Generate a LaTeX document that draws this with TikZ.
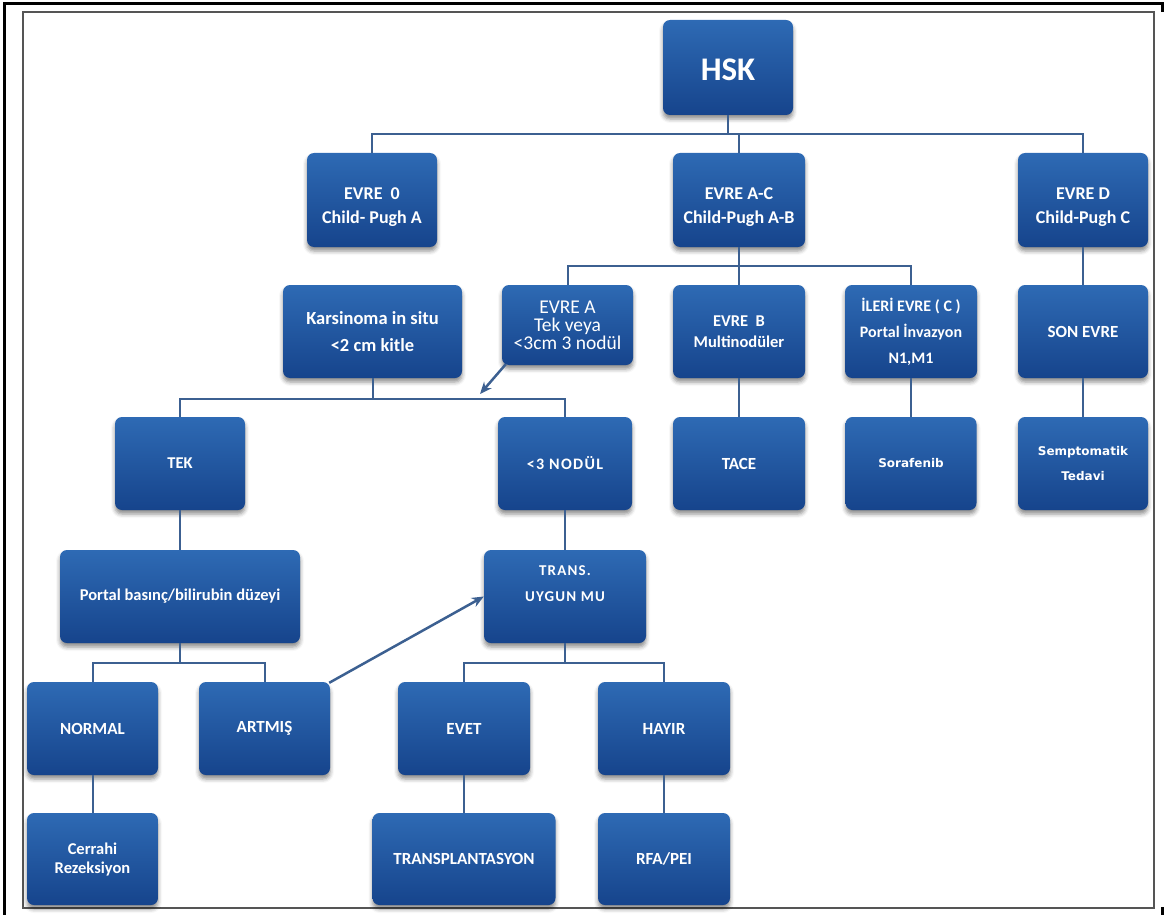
\documentclass[tikz,border=0pt]{standalone}
\usepackage{fontspec}
\setmainfont{Carlito}
\newfontfamily\dvsans{DejaVu Sans}
\newfontfamily\spcd[LetterSpace=8]{Carlito}
\usetikzlibrary{arrows.meta,shadows.blur}

\definecolor{boxtop}{RGB}{46,106,180}
\definecolor{boxbot}{RGB}{22,68,140}
\definecolor{linec}{RGB}{60,96,145}
\definecolor{framegray}{RGB}{85,85,85}

\tikzset{
  box/.style={rounded corners=7pt, top color=boxtop, bottom color=boxbot,
    text=white, align=center, inner sep=0pt,
    font=\bfseries\fontsize{17}{21}\selectfont,
    blur shadow={shadow xshift=0pt, shadow yshift=-4pt,
      shadow blur radius=4pt, shadow opacity=45}},
  conn/.style={draw=linec, line width=2pt},
  arr/.style={draw=linec, line width=2.5pt, -{Stealth[length=12pt,width=10pt]}}
}
% box with centre (x,y) and size (w,h), all in pixels
\newcommand{\bx}[7][]{\node[box, minimum width=#4pt, minimum height=#5pt, #1] (#2) at (#3,#6) {#7};}
% taller first line pushes a text block a little lower in its box
\newcommand{\lowstrut}{\rule{0pt}{26pt}}

\begin{document}
\begin{tikzpicture}[x=1pt,y=-1pt]
\useasboundingbox (0,0) rectangle (1167,915);

% frame
\draw[black, line width=3pt] (4.5,915) -- (4.5,4) -- (1162,4) -- (1162,12);
\draw[black, line width=3pt] (1162,907) -- (1162,915);
\draw[framegray, line width=2pt] (23,12) rectangle (1154,908);

% level 0-1
\bx[font=\bfseries\fontsize{33}{36}\selectfont]{hsk}{728}{130}{95}{67.5}{\rule{0pt}{26pt}HSK}
\bx[font=\bfseries\fontsize{18}{24}\selectfont]{e0}{372}{130}{94}{200}{\lowstrut EVRE\ \ 0\\Child- Pugh A}
\bx[font=\bfseries\fontsize{18}{24}\selectfont]{eac}{739}{132}{94}{200}{\lowstrut EVRE A-C\\Child-Pugh A-B}
\bx[font=\bfseries\fontsize{18}{24}\selectfont]{ed}{1083}{130}{94}{200}{\lowstrut EVRE D\\Child-Pugh C}

% level 2
\bx[font=\bfseries\fontsize{18.5}{27}\selectfont]{kis}{372.5}{179}{93}{331.5}{Karsinoma in situ\\<2 cm kitle}
\bx[font=\fontsize{19.5}{18}\selectfont]{ea}{567.5}{131}{80}{325}{EVRE A\\Tek veya\\<3cm 3 nodül}
\bx[font=\bfseries\fontsize{16.5}{21}\selectfont]{eb}{739}{132}{93}{331.5}{EVRE\ \ B\\Multinodüler}
\bx[font=\bfseries\fontsize{16}{26}\selectfont]{ei}{911}{132}{93}{331.5}{İLERİ EVRE ( C )\\Portal İnvazyon\\N1,M1}
\bx{son}{1083}{130}{93}{331.5}{SON EVRE}

% level 3
\bx[font=\bfseries\fontsize{16.5}{20}\selectfont]{tek}{180}{130}{93}{463.5}{TEK}
\bx[font=\spcd\bfseries\fontsize{16}{20}\selectfont]{nod}{565}{134}{93}{463.5}{<3 NODÜL}
\bx{tace}{739}{132}{93}{463.5}{TACE}
\bx[font=\dvsans\bfseries\fontsize{12}{25}\selectfont]{sor}{911}{131}{93}{463.5}{Sorafenib}
\bx[font=\dvsans\bfseries\fontsize{12}{25}\selectfont]{sem}{1083}{130}{93}{463.5}{Semptomatik\\Tedavi}

% level 4
\bx[font=\bfseries\fontsize{16.5}{20}\selectfont]{por}{180}{240}{93}{596.5}{Portal basınç/bilirubin düzeyi}
\bx[font=\spcd\bfseries\fontsize{15}{26}\selectfont]{trans}{565}{162}{93}{596.5}{TRANS.\\UYGUN MU\\~}

% level 5
\bx{norm}{92.5}{131}{93}{728.5}{NORMAL}
\bx{art}{264.5}{131}{93}{728.5}{ARTMIŞ}
\bx{evet}{464}{132}{93}{728.5}{EVET}
\bx{hay}{664}{132}{93}{728.5}{HAYIR}

% level 6
\bx[font=\bfseries\fontsize{16.5}{19}\selectfont]{cer}{92.5}{131}{92}{859}{Cerrahi\\Rezeksiyon}
\bx{tra}{464}{183}{92}{859}{TRANSPLANTASYON}
\bx{rfa}{664}{132}{92}{859}{RFA/PEI}

% bus levels
\coordinate (b1) at (0,134);
\coordinate (b2) at (0,266);
\coordinate (b3) at (0,399);
\coordinate (b4) at (0,663);

% connectors
\draw[conn, line width=2.5pt] (hsk) -- (hsk |- b1);
\draw[conn] (e0) -- (e0 |- b1) -- (ed |- b1) -- (ed);
\draw[conn] (eac) -- (eac |- b1);

\draw[conn] (eac) -- (eac |- b2);
\draw[conn] (ea) -- (ea |- b2) -- (ei |- b2) -- (ei);
\draw[conn] (eb) -- (eb |- b2);
\draw[conn] (ed) -- (son);
\draw[conn] (son) -- (sem);
\draw[conn] (eb) -- (tace);
\draw[conn] (ei) -- (sor);

\draw[conn] (kis) -- (kis |- b3);
\draw[conn] (tek) -- (tek |- b3) -- (nod |- b3) -- (nod);
\draw[conn] (tek) -- (por);
\draw[conn] (nod) -- (trans);

\draw[conn] (por) -- (por |- b4);
\draw[conn] (norm) -- (norm |- b4) -- (art |- b4) -- (art);
\draw[conn] (trans) -- (trans |- b4);
\draw[conn] (evet) -- (evet |- b4) -- (hay |- b4) -- (hay);

\draw[conn] (norm) -- (cer);
\draw[conn] (evet) -- (tra);
\draw[conn] (hay) -- (rfa);

% cross-links
\coordinate (a1) at (480,394);
\draw[arr] ([xshift=4pt,yshift=1pt]ea.south west) -- (a1);
\draw[arr] ([xshift=-1pt,yshift=-1pt]art.north east) -- (trans.west);
\end{tikzpicture}
\end{document}
